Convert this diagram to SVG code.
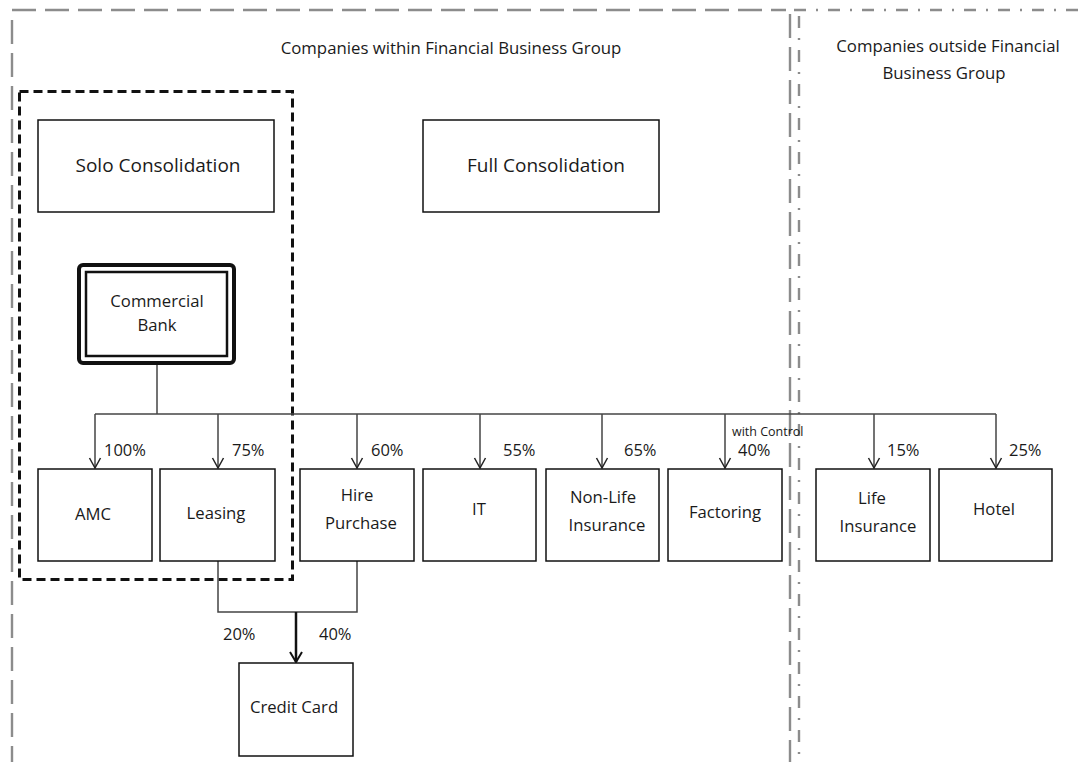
<svg xmlns="http://www.w3.org/2000/svg" width="1088" height="762" viewBox="0 0 1088 762">
<style>
text{font-family:"Open Sans","Noto Sans","DejaVu Sans",sans-serif;fill:#1a1a1a}
.box{fill:#fff;stroke:#111;stroke-width:1.5}
.lbl{font-size:16.7px;text-anchor:middle}
.big{font-size:19px;text-anchor:middle}
.ttl{font-size:16.8px;text-anchor:middle}
.pct{font-size:16.5px}
.conn{fill:none;stroke:#444;stroke-width:1.5}
.frame{fill:none;stroke:#8c8c8c;stroke-width:2.4;stroke-dasharray:24 9}
.frame2{fill:none;stroke:#8c8c8c;stroke-width:2.4;stroke-dasharray:12 10 2 10}
</style>
<defs>
<marker id="ah" markerUnits="userSpaceOnUse" markerWidth="14" markerHeight="14" viewBox="-1 -7 13 14" refX="10" refY="0" orient="auto">
<path d="M0,-5.5 L10,0 L0,5.5" fill="none" stroke="#222" stroke-width="1.5"/>
</marker>
<marker id="ah2" markerUnits="userSpaceOnUse" markerWidth="14" markerHeight="14" viewBox="-1 -7 13 14" refX="10" refY="0" orient="auto">
<path d="M0,-6 L10,0 L0,6" fill="none" stroke="#111" stroke-width="2"/>
</marker>
</defs>

<g id="frames">
<path class="frame" d="M12,10 H786"/>
<path class="frame" d="M12,20 V762"/>
<path class="frame" d="M790,14 V762"/>
<path class="frame2" d="M794,10 H1088"/>
<path class="frame2" d="M799,16 V762"/>
<rect x="19.5" y="91.5" width="273" height="488" fill="none" stroke="#111" stroke-width="3" stroke-dasharray="9 5"/>
<text class="ttl" x="451" y="54">Companies within Financial Business Group</text>
<text class="ttl" x="948" y="52">Companies outside Financial</text>
<text class="ttl" x="944" y="79">Business Group</text>
</g>

<g id="connectors">
<path class="conn" d="M157,364 V414"/>
<path class="conn" d="M95,414 H996"/>
<path class="conn" d="M95,414 V468" marker-end="url(#ah)"/>
<path class="conn" d="M218,414 V468" marker-end="url(#ah)"/>
<path class="conn" d="M357,414 V468" marker-end="url(#ah)"/>
<path class="conn" d="M480,414 V468" marker-end="url(#ah)"/>
<path class="conn" d="M602,414 V468" stroke="#222" marker-end="url(#ah)"/>
<path class="conn" d="M725,414 V468" stroke="#111" stroke-width="2" marker-end="url(#ah)"/>
<path class="conn" d="M874,414 V468" marker-end="url(#ah)"/>
<path class="conn" d="M996,414 V468" marker-end="url(#ah)"/>
<path class="conn" d="M218,561 V612 H357 V561"/>
<path d="M296,612 V662" fill="none" stroke="#111" stroke-width="2.5" marker-end="url(#ah2)"/>
<text class="pct" x="104" y="456">100%</text>
<text class="pct" x="232" y="456">75%</text>
<text class="pct" x="371" y="456">60%</text>
<text class="pct" x="503" y="456">55%</text>
<text class="pct" x="624" y="456">65%</text>
<text x="732" y="436" style="font-size:12.5px">with Control</text>
<text class="pct" x="738" y="456">40%</text>
<text class="pct" x="887" y="456">15%</text>
<text class="pct" x="1009" y="456">25%</text>
<text class="pct" x="223" y="640">20%</text>
<text class="pct" x="319" y="640">40%</text>
</g>

<g id="solo">
<rect class="box" x="38" y="120" width="236" height="92"/>
<text class="big" x="158" y="172">Solo Consolidation</text>
</g>
<g id="full">
<rect class="box" x="423" y="120" width="236" height="92"/>
<text class="big" x="546" y="172">Full Consolidation</text>
</g>
<g id="bank">
<rect x="79" y="265" width="155" height="98" rx="4" fill="#fff" stroke="#111" stroke-width="4"/>
<rect x="86" y="272" width="141" height="84" fill="none" stroke="#111" stroke-width="2.5"/>
<text class="lbl" x="157" y="307">Commercial</text>
<text class="lbl" x="157" y="331">Bank</text>
</g>
<g id="amc">
<rect class="box" x="38" y="469" width="114" height="92"/>
<text class="lbl" x="93" y="520">AMC</text>
</g>
<g id="leasing">
<rect class="box" x="160" y="469" width="115" height="92"/>
<text class="lbl" x="216" y="519">Leasing</text>
</g>
<g id="hire">
<rect class="box" x="300" y="469" width="114" height="92"/>
<text class="lbl" x="357" y="501">Hire</text>
<text class="lbl" x="361" y="529">Purchase</text>
</g>
<g id="it">
<rect class="box" x="423" y="469" width="113" height="92"/>
<text class="lbl" x="479" y="515">IT</text>
</g>
<g id="nonlife">
<rect class="box" x="546" y="469" width="113" height="92"/>
<text class="lbl" x="603" y="503">Non-Life</text>
<text class="lbl" x="607" y="531">Insurance</text>
</g>
<g id="factoring">
<rect class="box" x="668" y="469" width="114" height="92"/>
<text class="lbl" x="725" y="518">Factoring</text>
</g>
<g id="life">
<rect class="box" x="816" y="469" width="114" height="92"/>
<text class="lbl" x="872" y="504">Life</text>
<text class="lbl" x="878" y="532">Insurance</text>
</g>
<g id="hotel">
<rect class="box" x="939" y="469" width="113" height="92"/>
<text class="lbl" x="994" y="515">Hotel</text>
</g>
<g id="credit">
<rect class="box" x="239" y="663" width="114" height="93"/>
<text class="lbl" x="294" y="713">Credit Card</text>
</g>
</svg>
